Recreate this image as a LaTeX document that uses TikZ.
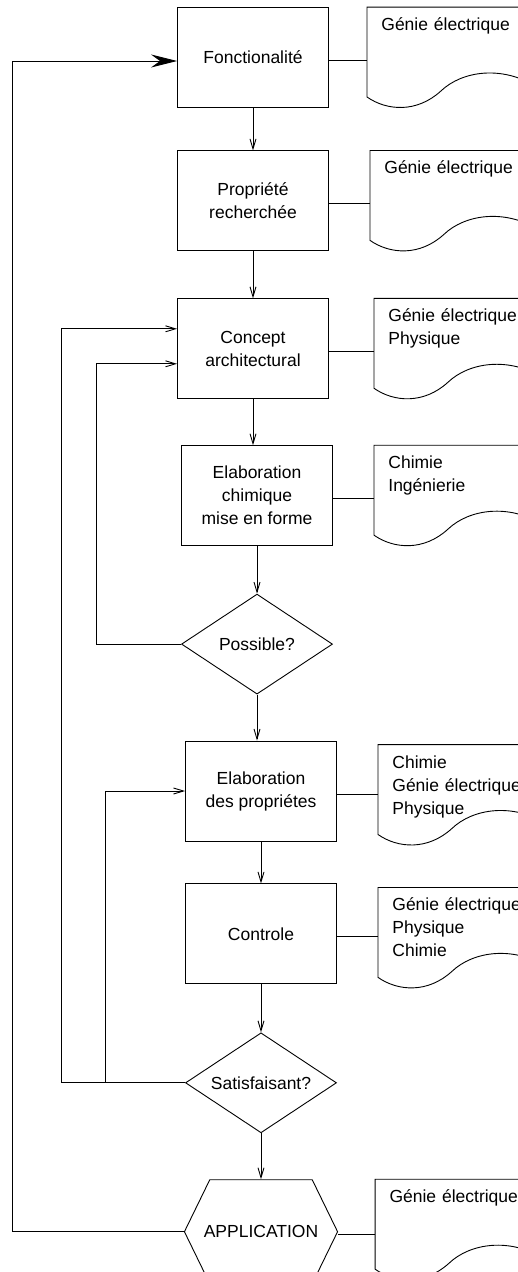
\documentclass[tikz,border=0pt]{standalone}
\usepackage{fontspec}
\setsansfont{Liberation Sans}
\usetikzlibrary{arrows.meta,positioning,calc,shapes.geometric,shapes.symbols}
\tikzset{
    %Define standard arrow tip
    >={Straight Barb[length=10pt,width=6pt]},
    font=\sffamily\fontsize{17.5pt}{23pt}\selectfont,
    %Define style for boxes
    boite/.style={
           rectangle,
           draw=black,
           minimum width=151pt,
           minimum height=100pt,
           align=center},
    % Define decision and end styles
    losange/.style={diamond,draw=black,aspect=1.5,inner sep=0pt,minimum width=151pt,minimum height=100pt},
    hexa/.style={signal,signal to=west and east,signal pointer angle=128,draw=black,inner xsep=-6pt,minimum height=104pt},
    % Define document style (outline drawn afterwards)
    doc/.style={rectangle,text width=140pt,align=left,inner xsep=14pt,inner ysep=10pt,text height=13pt,text depth=56pt},
    % Define arrow style
    retour/.style={-{Stealth[length=26pt,width=13pt,inset=9pt]}}
}
\begin{document}
\begin{tikzpicture}[line width=0.9pt]
  \useasboundingbox (0,0) rectangle (518pt,-1272pt);
  \clip (0,0) rectangle (518pt,-1272pt);
  \node[boite] (b1) at (253pt,-57.5pt) {Fonctionalité};
  \node[boite] (b2) [below=42.5pt of b1] {Propriété\\recherchée};
  \node[boite] (b3) [below=47pt of b2] {Concept\\architectural};
  \node[boite] (b4) [below=46pt of b3, xshift=4pt] {Elaboration\\chimique\\mise en forme};
  \node[losange] (p1) [below=47.5pt of b4] {Possible?};
  \node[boite] (b5) [below=46pt of p1, xshift=4pt] {Elaboration\\des propriétes};
  \node[boite] (b6) [below=42pt of b5] {Controle};
  \node[losange] (s1) [below=48pt of b6] {Satisfaisant?};
  \node[hexa] (app) [below=46pt of s1] {APPLICATION};
  \node[doc, right=38pt of b1.north east, anchor=north west] (d1) {Génie électrique};
  \node[doc, right=41pt of b2.north east, anchor=north west] (d2) {Génie électrique};
  \node[doc, right=45pt of b3.north east, anchor=north west] (d3) {Génie électrique\\Physique};
  \node[doc, right=41pt of b4.north east, anchor=north west] (d4) {Chimie\\Ingénierie};
  \node[doc, right=41pt of b5.north east, anchor=north west, yshift=-4pt] (d5) {Chimie\\Génie électrique\\Physique};
  \node[doc, right=41pt of b6.north east, anchor=north west, yshift=-4pt] (d6) {Génie électrique\\Physique\\Chimie};
  \node[doc, anchor=north west] (d7) at ($(app.north -| app.east)+(37pt,0)$) {Génie électrique};
  \foreach \i in {1,...,7}
    \draw ($(d\i.north west)+(175pt,0)$) -- (d\i.north west) -- (d\i.south west)
      .. controls ($(d\i.south west)+(20pt,-14pt)$) and ($(d\i.south west)+(50pt,-16pt)$) .. ($(d\i.south west)+(74pt,6pt)$)
      .. controls ($(d\i.south west)+(95pt,26pt)$) and ($(d\i.south west)+(135pt,32pt)$) .. ($(d\i.south west)+(170pt,10pt)$);
  \foreach \b/\d in {b1/d1,b2/d2,b3/d3,b4/d4,b5/d5,b6/d6,app/d7}
    \draw ([yshift=-3pt]\b.east) -- ([yshift=-3pt]\b.east -| \d.west);
  \foreach \a/\b in {b1/b2,b2/b3,b3/b4,b4/p1,p1/b5,b5/b6,b6/s1,s1/app}
    \draw[->] (\a.south) -- (\a.south |- \b.north);
  \draw[->] (p1.west) -- ++(-85pt,0) |- ([yshift=-15pt]b3.west);
  \draw[->] (s1.west) -- ++(-124pt,0) |- ([yshift=20pt]b3.west);
  \draw[->] (s1.west) -- ++(-80pt,0) |- (b5.west);
  \draw[retour] (app.west) -- ++(-171pt,0) |- ([yshift=-3.5pt]b1.west);
\end{tikzpicture}
\end{document}
